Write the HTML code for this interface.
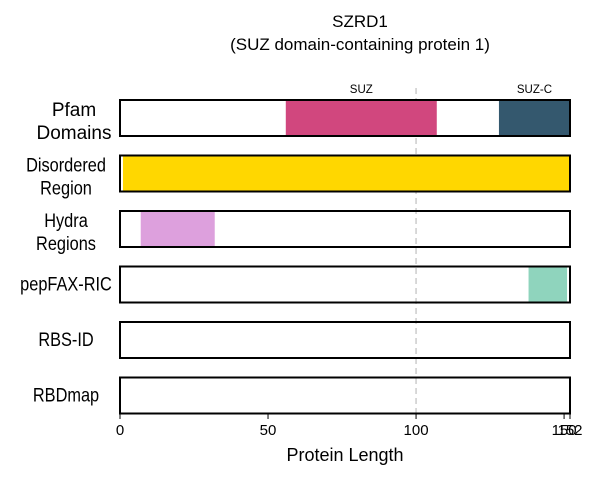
<!DOCTYPE html>
<html><head><meta charset="utf-8"><style>
body{margin:0;background:#fff}
svg text{font-family:"Liberation Sans",sans-serif}
</style></head><body>
<svg id="chart" width="600" height="480">
<text x="360" y="27" text-anchor="middle" font-size="17">SZRD1</text>
<text x="360" y="50" text-anchor="middle" font-size="17">(SUZ domain-containing protein 1)</text>
<g id="rows"></g>
<text x="345" y="461" text-anchor="middle" font-size="18">Protein Length</text>
</svg>
<script>
const trackNames=["Pfam Domains","Disordered Region","Hydra Regions","pepFAX-RIC","RBS-ID","RBDmap"];
const pfamStarts=[56,128];
const pfamEnds=[107,152];
const pfamLabels=["SUZ","SUZ-C"];
const pfamColors=["#d1477e","#34586e"];
const disStarts=[1];const disEnds=[152];
const hydraStarts=[7];const hydraEnds=[32];
const pepStarts=[138];const pepEnds=[151];
const xTicks=[0,50,100,150,152];
const proteinLength=152;
const svg=document.getElementById('chart');
const NS="http://www.w3.org/2000/svg";
const x0=120,x1=570;
const sx=v=>x0+v/proteinLength*(x1-x0);
const rowTop=i=>100+i*55.5;
const rowH=36;
function mk(tag,attrs,parent){const e=document.createElementNS(NS,tag);for(const k in attrs)e.setAttribute(k,attrs[k]);(parent||svg).appendChild(e);return e;}
const dl=mk('line',{x1:sx(100),x2:sx(100),y1:88,y2:414,stroke:'#ccc','stroke-width':1.5,'stroke-dasharray':'6,4'});


function segs(i,starts,ends,colors,name){
  for(let j=0;j<starts.length;j++){
    const r=mk('rect',{x:sx(starts[j]),y:rowTop(i),width:sx(ends[j])-sx(starts[j]),height:rowH,fill:Array.isArray(colors)?colors[j]:colors});
    
    
  }
}
trackNames.forEach((n,i)=>{
  const t=rowTop(i);
  const parts=n.split(' ');
  const lines=(i<3)?parts:[n];
  lines.forEach((p,k)=>{
    const y=t+18+(lines.length===1?6:(k===0?-2:21));
    const attrs=i===0?{x:74,y:y,'text-anchor':'middle','font-size':19}
      :{x:0,y:0,'text-anchor':'middle','font-size':19,transform:'translate(66,'+y+') scale(0.86,1)'};
    const tx=mk('text',attrs);
    tx.textContent=p;
    
    
  });
});
segs(0,pfamStarts,pfamEnds,pfamColors,'pfam-domain');
pfamLabels.forEach((l,j)=>{
  const tx=mk('text',{x:(sx(pfamStarts[j])+sx(pfamEnds[j]))/2,y:93,'text-anchor':'middle','font-size':11.5});
  tx.textContent=l;
  
  
});
segs(1,disStarts,disEnds,'#ffd700','disordered-region');
segs(2,hydraStarts,hydraEnds,'#dda0dd','hydra-region');
segs(3,pepStarts,pepEnds,'#8fd4bd','pepfax-region');
trackNames.forEach((n,i)=>{
  const r=mk('rect',{x:x0,y:rowTop(i),width:x1-x0,height:rowH,fill:'none',stroke:'#000','stroke-width':2});
  
  
});
xTicks.forEach((v,i)=>{
  const l=mk('line',{x1:sx(v),x2:sx(v),y1:414,y2:419,stroke:'#000','stroke-width':1});
  
  
  const tx=mk('text',{x:sx(v),y:435,'text-anchor':'middle','font-size':15});
  tx.textContent=v;
  
  
});
</script>
</body></html>
